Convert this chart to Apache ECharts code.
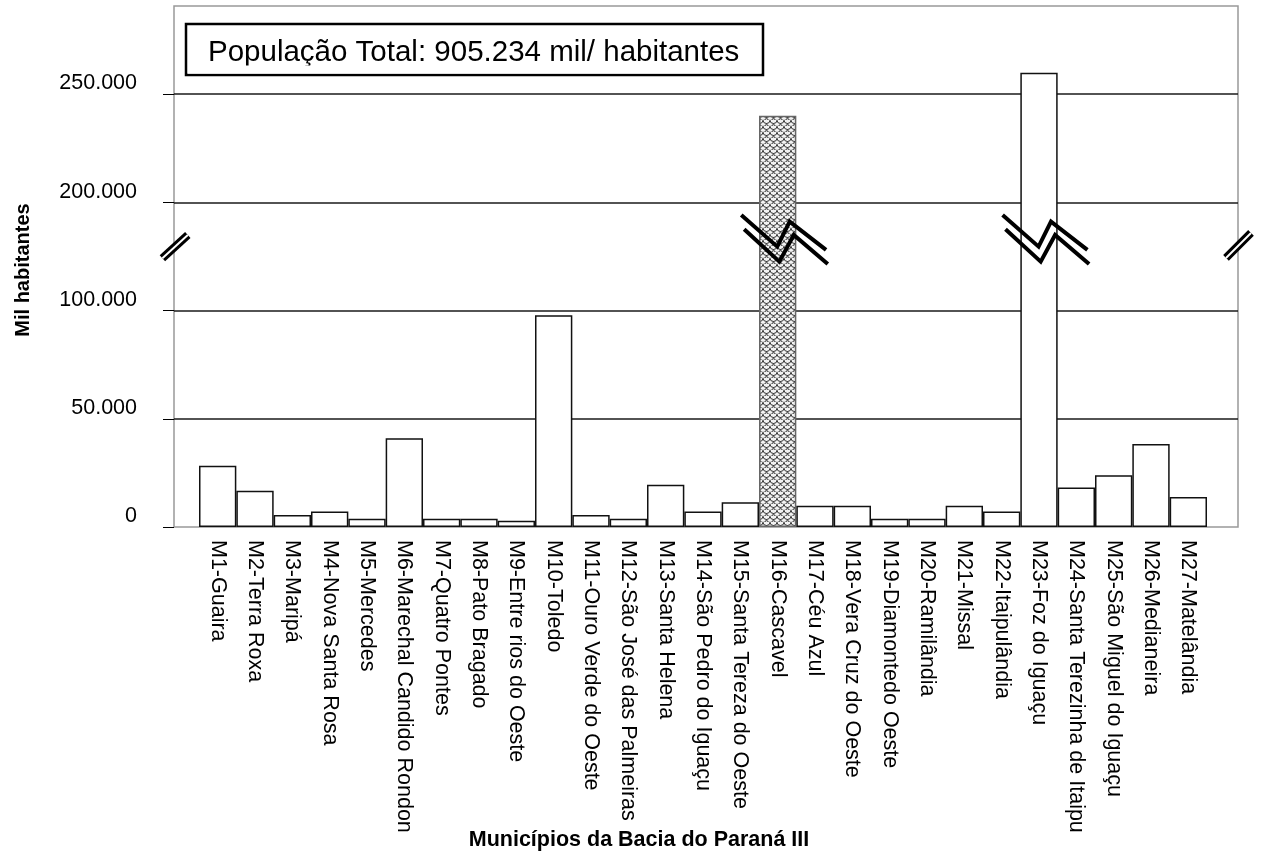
<!DOCTYPE html>
<html>
<head>
<meta charset="utf-8">
<title>População dos municípios da Bacia do Paraná III</title>
<script src="https://cdn.jsdelivr.net/npm/echarts@6/dist/echarts.min.js"></script>
<style>
  html, body { margin: 0; padding: 0; background: #ffffff; }
  #chart { width: 1269px; height: 859px; }
</style>
</head>
<body>
<div id="chart"></div>
<script>
// Municipalities of the Paraná III basin and their population (habitantes)
const municipios = [
  'M1-Guaira', 'M2-Terra Roxa', 'M3-Maripá', 'M4-Nova Santa Rosa', 'M5-Mercedes',
  'M6-Marechal Candido Rondon', 'M7-Quatro Pontes', 'M8-Pato Bragado', 'M9-Entre rios do Oeste',
  'M10-Toledo', 'M11-Ouro Verde do Oeste', 'M12-São José das Palmeiras', 'M13-Santa Helena',
  'M14-São Pedro do Iguaçu', 'M15-Santa Tereza do Oeste', 'M16-Cascavel', 'M17-Céu Azul',
  'M18-Vera Cruz do Oeste', 'M19-Diamontedo Oeste', 'M20-Ramilândia', 'M21-Missal',
  'M22-Itaipulândia', 'M23-Foz do Iguaçu', 'M24-Santa Terezinha de Itaipu',
  'M25-São Miguel do Iguaçu', 'M26-Medianeira', 'M27-Matelândia'
];
const populacao = [
  28300, 16800, 5500, 7200, 3800,
  41000, 3800, 3800, 2900,
  97800, 5500, 3800, 19500,
  7200, 11400, 240000, 9800,
  9800, 3800, 3800, 9800,
  7200, 259800, 18300,
  23900, 38300, 13900
];
const destaque = 'M16-Cascavel';
const totalTexto = 'População Total: 905.234 mil/ habitantes';
const eixoYTitulo = 'Mil habitantes';
const eixoXTitulo = 'Municípios da Bacia do Paraná III';

// Broken value axis: the span 100.000–200.000 is collapsed into a single 50.000 step
const passo = 50000;
const quebra = { inicio: 100000, fim: 200000 };
const yMaxReal = 250000;

function paraEixo(v) {
  if (v <= quebra.inicio) return v / 1000;
  return (v - (quebra.fim - quebra.inicio) + passo) / 1000;
}
function doEixo(d) {
  const v = d * 1000;
  if (v <= quebra.inicio) return v;
  return v + (quebra.fim - quebra.inicio) - passo;
}
function formata(n) {
  return String(Math.round(n)).replace(/\B(?=(\d{3})+(?!\d))/g, '.');
}

// Fish-scale fill for the highlighted bar
function padraoEscamas() {
  const c = document.createElement('canvas');
  c.width = 7; c.height = 6;
  const g = c.getContext('2d');
  g.fillStyle = '#f2f2f2';
  g.fillRect(0, 0, 7, 6);
  g.strokeStyle = '#3c3c3c';
  g.lineWidth = 1;
  g.beginPath(); g.arc(3.5, 0, 3.5, 0, Math.PI); g.stroke();
  g.beginPath(); g.arc(0, 3, 3.5, 0, Math.PI); g.stroke();
  g.beginPath(); g.arc(7, 3, 3.5, 0, Math.PI); g.stroke();
  return c;
}

const fonte = '"Liberation Sans", Arial, Helvetica, sans-serif';
const chart = echarts.init(document.getElementById('chart'), null, { renderer: 'canvas' });

const dadosBarras = populacao.map((v, i) => {
  const item = { value: paraEixo(v) };
  if (municipios[i] === destaque) {
    item.itemStyle = {
      color: { image: padraoEscamas(), repeat: 'repeat' },
      borderColor: '#666666',
      borderWidth: 1.5
    };
  }
  return item;
});

const margemBaixo = 332;

chart.setOption({
  animation: false,
  backgroundColor: '#ffffff',
  grid: [
    // plot frame
    { left: 174, right: 31, top: 6, bottom: margemBaixo, show: true, borderColor: '#999999', borderWidth: 1.5, backgroundColor: 'transparent' },
    // value scale and gridlines
    { left: 174, right: 31, top: 94, bottom: margemBaixo },
    // bars
    { left: 199, right: 62, top: 94, bottom: margemBaixo }
  ],
  xAxis: [
    { gridIndex: 0, type: 'value', min: 0, max: 1, show: false },
    { gridIndex: 1, type: 'category', data: [''], show: false },
    {
      gridIndex: 2, type: 'category', data: municipios,
      axisLine: { show: false }, axisTick: { show: false },
      axisLabel: {
        interval: 0, rotate: -90, margin: 13,
        color: '#000000', fontFamily: fonte, fontSize: 21.5
      }
    }
  ],
  yAxis: [
    { gridIndex: 0, type: 'value', min: 0, max: 1, show: false },
    {
      gridIndex: 1, type: 'value', min: 0, max: paraEixo(yMaxReal), interval: passo / 1000,
      axisLine: { show: false },
      axisTick: { show: true, length: 11, lineStyle: { color: '#000000', width: 1 } },
      axisLabel: {
        margin: 37, color: '#000000', fontFamily: fonte, fontSize: 21.5,
        verticalAlign: 'bottom', lineHeight: 21,
        formatter: d => formata(doEixo(d))
      },
      splitLine: { show: true, showMinLine: false, lineStyle: { color: '#1a1a1a', width: 1.5 } }
    },
    { gridIndex: 2, type: 'value', min: 0, max: paraEixo(yMaxReal), show: false }
  ],
  series: [{
    type: 'bar',
    xAxisIndex: 2, yAxisIndex: 2,
    data: dadosBarras,
    barCategoryGap: '0%',
    clip: false,
    itemStyle: { color: '#ffffff', borderColor: '#111111', borderWidth: 1.5 }
  }]
});

// Decorations: text box, axis titles and the break marks on axis and tall bars
function marcas() {
  const px = (eixoX, eixoY, ponto) => chart.convertToPixel({ xAxisIndex: eixoX, yAxisIndex: eixoY }, ponto);
  const yCentro = px(1, 1, ['', 130])[1];
  const xEsq = px(0, 0, [0, 0])[0];
  const xDir = px(0, 0, [1, 0])[0];
  const el = [];

  el.push({
    type: 'rect', z: 50,
    shape: { x: 186, y: 24, width: 577, height: 51 },
    style: { fill: '#ffffff', stroke: '#000000', lineWidth: 2.5 }
  });
  el.push({
    type: 'text', z: 51, x: 208, y: 52.5,
    style: { text: totalTexto, fill: '#000000', font: '29.5px ' + fonte, verticalAlign: 'middle', align: 'left' }
  });
  el.push({
    type: 'rect', z: 52,
    shape: { x: 188, y: 65.5, width: 573, height: 8 },
    style: { fill: '#ffffff' }
  });
  el.push({
    type: 'text', z: 50, x: 23, y: 270, rotation: Math.PI / 2,
    style: { text: eixoYTitulo, fill: '#000000', font: 'bold 20px ' + fonte, align: 'center', verticalAlign: 'middle' }
  });
  el.push({
    type: 'text', z: 50, x: 639, y: 840,
    style: { text: eixoXTitulo, fill: '#000000', font: 'bold 21.5px ' + fonte, align: 'center', verticalAlign: 'middle' }
  });

  // "//" marks on both sides of the frame
  [[xEsq, -11.6, 12.7, 13.8, -10.6], [xDir, -12, 12.4, 13, -12.6]].forEach(([x0, ax, ay, bx, by]) => {
    const s = { x1: x0 + ax, y1: yCentro + ay, x2: x0 + bx, y2: yCentro + by };
    el.push({ type: 'line', z: 60, shape: s, style: { stroke: '#000000', lineWidth: 8 } });
    el.push({ type: 'line', z: 61, shape: s, style: { stroke: '#ffffff', lineWidth: 2 } });
  });

  // zigzag break marks across the bars that pass the break
  const sup = [[-36.4, -30.6], [-0.4, 1.1], [12, -23.9], [48.4, 4.4]];
  const inf = [[-33.5, -16.3], [1.7, 16.1], [16.1, -10.6], [50.1, 18.4]];
  populacao.forEach((v, i) => {
    if (v < quebra.fim) return;
    const cx = px(2, 2, [municipios[i], 0])[0];
    [sup, inf].forEach(linha => {
      el.push({
        type: 'polyline', z: 60,
        shape: { points: linha.map(([dx, dy]) => [cx + dx, yCentro + dy]) },
        style: { stroke: '#000000', lineWidth: 4, fill: null, lineJoin: 'miter' }
      });
    });
  });

  chart.setOption({ graphic: { elements: el } });
}
marcas();
</script>
</body>
</html>
